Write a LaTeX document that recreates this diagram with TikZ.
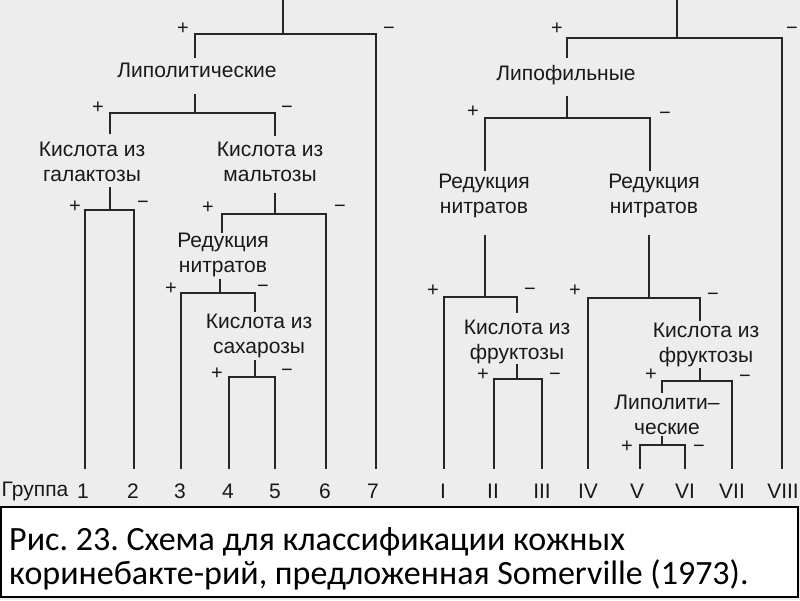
\documentclass[tikz,border=0pt]{standalone}
\usepackage{fontspec}
\setmainfont{Liberation Sans}
\newfontfamily\capfont{Carlito}
\begin{document}
\frenchspacing
\begin{tikzpicture}[x=1pt,y=-1pt,
  br/.style={line width=2pt, draw=black!85, line cap=rect},
  lab/.style={font=\fontsize{21}{24.5}\selectfont, align=center, inner sep=0pt, text=black!90},
  pm/.style={font=\fontsize{20}{20}\selectfont, inner sep=0pt, text=black!90},
  grp/.style={font=\fontsize{21}{21}\selectfont, inner sep=0pt, text=black!90},
  captext/.style={font=\capfont\fontsize{34}{34}\selectfont, align=left, inner sep=0pt, anchor=west}]
\useasboundingbox (0,0) rectangle (800,600);
\fill[black!7] (0,0) rectangle (800,600);

% ---------- left tree ----------
\coordinate (t1) at (283,0);   \coordinate (s1) at (283,34);
\coordinate (eLipoL) at (195,57); \coordinate (g7) at (376,468);
\node[lab] (lipoL) at (197,70) {Липолитические};
\draw[br] (t1) -- (s1);
\draw[br] (eLipoL) |- (s1) -| (g7);

\coordinate (t2) at (195,95);  \coordinate (s2) at (195,113);
\coordinate (eGal) at (110,133); \coordinate (eMal) at (275,135);
\node[lab] (gal) at (92,162) {Кислота из\\галактозы};
\node[lab] (mal) at (270,162) {Кислота из\\мальтозы};
\draw[br] (t2) -- (s2);
\draw[br] (eGal) |- (s2) -| (eMal);

\coordinate (t3) at (110,188); \coordinate (s3) at (110,210);
\coordinate (g1) at (85,468);  \coordinate (g2) at (134,468);
\draw[br] (t3) -- (s3);
\draw[br] (g1) |- (s3) -| (g2);

\coordinate (t4) at (275,194); \coordinate (s4) at (275,214);
\coordinate (eRed1) at (222,232); \coordinate (g6) at (326,468);
\node[lab] (red1) at (223,255) {Редукция\\нитратов};
\draw[br] (t4) -- (s4);
\draw[br] (eRed1) |- (s4) -| (g6);

\coordinate (t5) at (220,280); \coordinate (s5) at (220,293);
\coordinate (g3) at (181,468); \coordinate (eSuc) at (255,311);
\node[lab] (suc) at (259,336) {Кислота из\\сахарозы};
\draw[br] (t5) -- (s5);
\draw[br] (g3) |- (s5) -| (eSuc);

\coordinate (t6) at (255,361); \coordinate (s6) at (255,377);
\coordinate (g4) at (229,468); \coordinate (g5) at (275,468);
\draw[br] (t6) -- (s6);
\draw[br] (g4) |- (s6) -| (g5);

% ---------- right tree ----------
\coordinate (t7) at (677,0);   \coordinate (s7) at (677,38);
\coordinate (eLipoF) at (567,57); \coordinate (g8) at (782,468);
\node[lab] (lipoF) at (566,75) {Липофильные};
\draw[br] (t7) -- (s7);
\draw[br] (eLipoF) |- (s7) -| (g8);

\coordinate (t8) at (567,97);  \coordinate (s8) at (567,118);
\coordinate (eRedL) at (485,170); \coordinate (eRedR) at (650,170);
\node[lab] (redL) at (484,196) {Редукция\\нитратов};
\node[lab] (redR) at (654,196) {Редукция\\нитратов};
\draw[br] (t8) -- (s8);
\draw[br] (eRedL) |- (s8) -| (eRedR);

\coordinate (t9) at (485,236); \coordinate (s9) at (485,297);
\coordinate (gI) at (444,468); \coordinate (eFrL) at (517,312);
\node[lab] (frL) at (517,342) {Кислота из\\фруктозы};
\draw[br] (t9) -- (s9);
\draw[br] (gI) |- (s9) -| (eFrL);

\coordinate (t10) at (517,365); \coordinate (s10) at (517,379);
\coordinate (gII) at (494,468); \coordinate (gIII) at (542,468);
\draw[br] (t10) -- (s10);
\draw[br] (gII) |- (s10) -| (gIII);

\coordinate (t11) at (649,236); \coordinate (s11) at (649,298);
\coordinate (gIV) at (588,468); \coordinate (eFrR) at (700,320);
\node[lab] (frR) at (706,345) {Кислота из\\фруктозы};
\draw[br] (t11) -- (s11);
\draw[br] (gIV) |- (s11) -| (eFrR);

\coordinate (t12) at (700,369); \coordinate (s12) at (700,381);
\coordinate (eLipR) at (662,392); \coordinate (gVII) at (732,468);
\node[lab] (lipR) at (667,415) {Липолити–\\ческие};
\draw[br] (t12) -- (s12);
\draw[br] (eLipR) |- (s12) -| (gVII);

\coordinate (t13) at (662,437); \coordinate (s13) at (662,445);
\coordinate (gV) at (640,468); \coordinate (gVI) at (685,468);
\draw[br] (t13) -- (s13);
\draw[br] (gV) |- (s13) -| (gVI);

% ---------- signs ----------
\foreach \n/\x/\y/\s in {p1/183/29/+, m1/389/31/−, p2/98/108/+, m2/287/110/−,
  p3/75/207/+, m3/143/205/−, p4/208/208/+, m4/340/209/−,
  p5/171/289/+, m5/263/289/−, p6/217/374/+, m6/287/373/−,
  p7/557/29/+, m7/792/31/−, p8/473/112/+, m8/665/116/−,
  p9/433/291/+, m9/530/292/−, p10/483/375/+, m10/555/377/−,
  p11/575/291/+, m11/713/297/−, p12/651/375/+, m12/745/379/−,
  p13/627/447/+, m13/699/449/−}
  \node[pm] (\n) at (\x,\y) {\s};

% ---------- groups ----------
\node[grp] (grpw) at (35,491) {Группа};
\foreach \n/\x/\s in {q1/83/1, q2/133/2, q3/180/3, q4/228/4, q5/275/5, q6/325/6, q7/373/7,
  qI/443/I, qII/493/II, qIII/542/III, qIV/588/IV, qV/637/V, qVI/685/VI, qVII/732/VII, qVIII/783/VIII}
  \node[grp] (\n) at (\x,491) {\s};

% ---------- caption ----------
\draw[line width=1.5pt, fill=white] (1,507) rectangle (798,597);
\node[captext] (caption) at (9,559) {Рис. 23. Схема для классификации кожных\\коринебакте-рий, предложенная Somerville (1973).};
\end{tikzpicture}
\end{document}
